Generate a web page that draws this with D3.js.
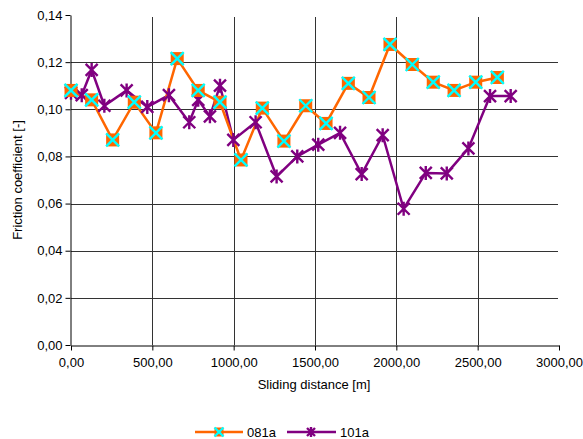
<!DOCTYPE html>
<html>
<head>
<meta charset="utf-8">
<script src="https://cdn.jsdelivr.net/npm/d3@7"></script>
<style>
  body { margin: 0; background: #fff; }
  text { font-family: "Liberation Sans", Arial, sans-serif; fill: #000; }
</style>
</head>
<body>
<div id="chart"></div>
<script>
// series data
var dist081 = [0, 127, 256, 389, 522, 653, 782, 916, 1045, 1176, 1309, 1443, 1568, 1705, 1832, 1961, 2098, 2227, 2355, 2488, 2621];
var fric081 = [0.108, 0.104, 0.087, 0.103, 0.090, 0.1215, 0.108, 0.103, 0.0785, 0.1005, 0.0865, 0.1015, 0.094, 0.111, 0.105, 0.1275, 0.119, 0.1115, 0.108, 0.1115, 0.1135];

var dist101 = [0, 66, 127, 205, 342, 469, 602, 727, 782, 854, 916, 998, 1135, 1264, 1391, 1520, 1654, 1787, 1916, 2045, 2181, 2310, 2443, 2576, 2703];
var fric101 = [0.107, 0.106, 0.1167, 0.1015, 0.108, 0.101, 0.106, 0.0945, 0.104, 0.097, 0.110, 0.087, 0.0945, 0.0715, 0.080, 0.085, 0.090, 0.0725, 0.089, 0.0578, 0.073, 0.0728, 0.0834, 0.1056, 0.1056];

var xTicks = [0, 500, 1000, 1500, 2000, 2500, 3000];
var yTicks = [0, 0.02, 0.04, 0.06, 0.08, 0.10, 0.12, 0.14];

var seriesNames = ["081a", "101a"];

var W = 583, H = 439;
var margin = {top: 15, right: 24, bottom: 94, left: 71};
var width = W - margin.left - margin.right,
    height = H - margin.top - margin.bottom;

var fmt = function(v, d) { return v.toFixed(d).replace(".", ","); };

var svg = d3.select("#chart").append("svg")
    .attr("width", W)
    .attr("height", H);

var g = svg.append("g").attr("transform", "translate(" + margin.left + "," + margin.top + ")");

var x = d3.scaleLinear().domain([0, 3000]).range([0, width]);
var y = d3.scaleLinear().domain([0, 0.14]).range([height, 0]);

// gridlines
g.selectAll(".vgrid")
    .data(xTicks.filter(function(d) { return d > 0 && d < 3000; }))
  .enter().append("line")
    .attr("x1", function(d) { return Math.round(x(d)) + 0.5; })
    .attr("x2", function(d) { return Math.round(x(d)) + 0.5; })
    .attr("y1", 2)
    .attr("y2", height)
    .attr("stroke", "#333")
    .attr("stroke-width", 1);

g.selectAll(".hgrid")
    .data(yTicks.filter(function(d) { return d > 0 && d < 0.14; }))
  .enter().append("line")
    .attr("x1", 0)
    .attr("x2", width - 1)
    .attr("y1", function(d) { return Math.round(y(d)) + 0.5; })
    .attr("y2", function(d) { return Math.round(y(d)) + 0.5; })
    .attr("stroke", "#333")
    .attr("stroke-width", 1);

// axes
var xAxis = g.append("g")
    .attr("transform", "translate(0," + (height + 0.5) + ")")
    .call(d3.axisBottom(x).tickValues(xTicks).tickSize(5).tickSizeOuter(0)
      .tickFormat(function(d) { return fmt(d, 2); }));
xAxis.selectAll("text").attr("font-size", 13).attr("dy", "1.05em");

var yAxis = g.append("g")
    .attr("transform", "translate(-0.5,0)")
    .call(d3.axisLeft(y).tickValues(yTicks).tickSize(5).tickSizeOuter(0)
      .tickFormat(function(d) { return fmt(d, 2); }));
yAxis.selectAll("text").attr("font-size", 13).attr("x", -8);

svg.selectAll(".domain, .tick line").attr("stroke", "#000");

// axis titles
svg.append("text")
    .attr("x", margin.left + width / 2 - 1)
    .attr("y", 389)
    .attr("text-anchor", "middle")
    .attr("font-size", 13)
    .text("Sliding distance [m]");

svg.append("text")
    .attr("transform", "translate(22," + (margin.top + height / 2) + ") rotate(-90)")
    .attr("text-anchor", "middle")
    .attr("font-size", 13)
    .text("Friction coefficient [-]");

// lines
var data081 = dist081.map(function(d, i) { return [d, fric081[i]]; });
var data101 = dist101.map(function(d, i) { return [d, fric101[i]]; });

var line = d3.line()
    .x(function(d) { return x(d[0]); })
    .y(function(d) { return y(d[1]); });

g.append("path")
    .datum(data101)
    .attr("fill", "none")
    .attr("stroke", "#800080")
    .attr("stroke-width", 2.5)
    .attr("d", line);

g.append("path")
    .datum(data081)
    .attr("fill", "none")
    .attr("stroke", "#FF6600")
    .attr("stroke-width", 2.5)
    .attr("d", line);

// markers
function squareMarker(sel, cx, cy, s) {
  s = s || 6.5;
  sel.append("rect")
      .attr("x", cx - s).attr("y", cy - s)
      .attr("width", 2 * s).attr("height", 2 * s)
      .attr("fill", "#FF6600");
  sel.append("path")
      .attr("d", "M" + (cx - s) + "," + (cy - s) + "L" + (cx + s) + "," + (cy + s) +
                 "M" + (cx - s) + "," + (cy + s) + "L" + (cx + s) + "," + (cy - s))
      .attr("stroke", "#00FFFF")
      .attr("stroke-width", 2.4);
}

function starMarker(sel, cx, cy, s) {
  s = s || 6;
  sel.append("path")
      .attr("d", "M" + (cx - s) + "," + (cy - s) + "L" + (cx + s) + "," + (cy + s) +
                 "M" + (cx - s) + "," + (cy + s) + "L" + (cx + s) + "," + (cy - s) +
                 "M" + cx + "," + (cy - s - 1) + "L" + cx + "," + (cy + s + 1))
      .attr("stroke", "#800080")
      .attr("stroke-width", 2.4);
}

var m101 = g.append("g");
data101.forEach(function(d) { starMarker(m101, x(d[0]), y(d[1])); });

var m081 = g.append("g");
data081.forEach(function(d) { squareMarker(m081, x(d[0]), y(d[1])); });

// legend (smaller markers, like the original)
var legY = 432;
var leg = svg.append("g");
leg.append("line").attr("x1", 195).attr("x2", 243).attr("y1", legY).attr("y2", legY)
    .attr("stroke", "#FF6600").attr("stroke-width", 2.5);
squareMarker(leg, 219, legY, 4.5);
leg.append("text").attr("x", 247).attr("y", legY + 5).attr("font-size", 13).text(seriesNames[0]);

leg.append("line").attr("x1", 287).attr("x2", 336).attr("y1", legY).attr("y2", legY)
    .attr("stroke", "#800080").attr("stroke-width", 2.5);
starMarker(leg, 311, legY, 4);
leg.append("text").attr("x", 340).attr("y", legY + 5).attr("font-size", 13).text(seriesNames[1]);
</script>
</body>
</html>
